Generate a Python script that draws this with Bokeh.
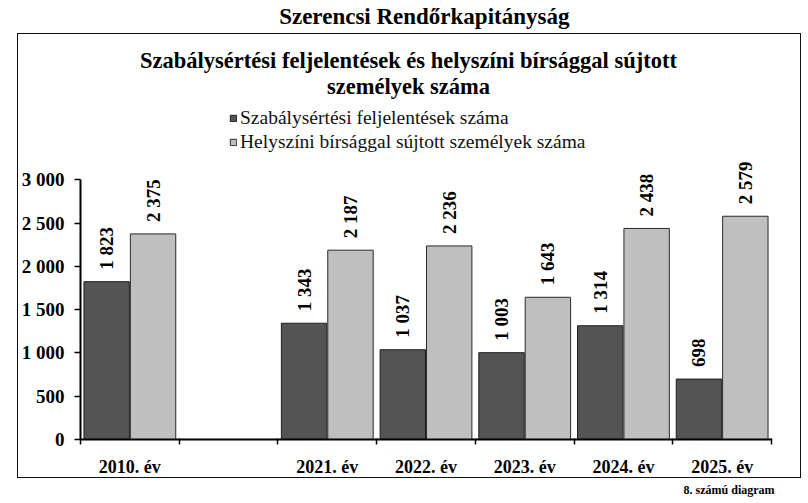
import math
from bokeh.plotting import figure
from bokeh.layouts import column
from bokeh.models import (Range1d, FixedTicker, Label, Legend, LegendItem, ColumnDataSource)
from bokeh.core.properties import value
from bokeh.embed import file_html
from bokeh.resources import INLINE

# ---- data ----
categories = ["2010. év", "", "2021. év", "2022. év", "2023. év", "2024. év", "2025. év"]
feljelentes = [1823, None, 1343, 1037, 1003, 1314, 698]
birsag = [2375, None, 2187, 2236, 1643, 2438, 2579]
y_ticks = [0, 500, 1000, 1500, 2000, 2500, 3000]
series_names = ["Szabálysértési feljelentések száma",
                "Helyszíni bírsággal sújtott személyek száma"]
outer_title = "Szerencsi Rendőrkapitányság"
inner_title = ["Szabálysértési feljelentések és helyszíni bírsággal sújtott",
               "személyek száma"]
footer = "8. számú diagram"

FONT = "Liberation Serif"
DARK = "#545454"
LIGHT = "#bfbfbf"


def fmt(v):
    return f"{v:,}".replace(",", " ")


def text_strip(height, txt, x, y, align, size, style="bold"):
    f = figure(width=806, height=height, output_backend="svg", toolbar_location=None,
               x_range=Range1d(0, 806), y_range=Range1d(0, height),
               x_axis_location=None, y_axis_location=None, min_border=0)
    f.outline_line_color = None
    f.xgrid.visible = False
    f.ygrid.visible = False
    f.add_layout(Label(x=x, y=y, text=txt, text_align=align, text_baseline="middle",
                       text_font=FONT, text_font_style=style, text_font_size=size,
                       text_color="black"))
    return f


top = text_strip(33, outer_title, 409, 17, "center", "23px")
foot = text_strip(21, footer, 805, 10, "right", "12px")

# main chart: canvas inside a 1px border box (box from x=17..802, y=33..479)
MW, MH = 784, 445
p = figure(width=MW, height=MH, output_backend="svg", toolbar_location=None,
           x_range=Range1d(0, len(categories)), y_range=Range1d(0, 4586),
           min_border_left=62, min_border_right=31, min_border_top=8,
           min_border_bottom=38)
p.styles = {"border": "1px solid #111111"}
p.margin = (0, 0, 0, 17)
p.outline_line_color = None
p.background_fill_color = "white"
p.border_fill_color = "white"
p.xgrid.visible = False
p.ygrid.visible = False

half = 0.235
bw = 0.46


def build(vals, shift):
    xs, ys, labels = [], [], []
    for i, v in enumerate(vals):
        if v is None:
            continue
        xs.append(i + 0.5 + shift)
        ys.append(v)
        labels.append(fmt(v))
    return ColumnDataSource(dict(x=xs, top=ys, label=labels))


src_d = build(feljelentes, -half)
src_l = build(birsag, half)

r_d = p.vbar(x="x", top="top", bottom=0, width=bw, source=src_d,
             fill_color=DARK, line_color="#1e1e1e", line_width=1)
r_l = p.vbar(x="x", top="top", bottom=0, width=bw, source=src_l,
             fill_color=LIGHT, line_color="#2a2a2a", line_width=1)

for src in (src_d, src_l):
    p.text(x="x", y="top", text="label", source=src, angle=math.pi / 2,
           text_align="left", text_baseline="middle", y_offset=-12,
           text_font=value(FONT), text_font_style="bold", text_font_size="19px",
           text_color="black")

# axes
yax = p.yaxis[0]
yax.ticker = FixedTicker(ticks=y_ticks, minor_ticks=[])
yax.major_label_overrides = {t: fmt(t) for t in y_ticks}
yax.bounds = (0, 3000)
yax.major_tick_in = 0
yax.major_tick_out = 6
yax.minor_tick_line_color = None
yax.axis_line_width = 2
yax.major_tick_line_width = 1.5
yax.major_label_standoff = 10
yax.major_label_text_font = FONT
yax.major_label_text_font_style = "bold"
yax.major_label_text_font_size = "19px"
yax.major_label_text_color = "black"

xax = p.xaxis[0]
centers = [i + 0.5 for i in range(len(categories))]
xax.ticker = FixedTicker(ticks=centers, minor_ticks=list(range(len(categories) + 1)))
xax.major_label_overrides = {c: lab for c, lab in zip(centers, categories)}
xax.major_tick_in = 0
xax.major_tick_out = 0
xax.minor_tick_in = 1
xax.minor_tick_out = 5
xax.minor_tick_line_width = 1.5
xax.axis_line_width = 2
xax.major_label_standoff = 12
xax.major_label_text_font = FONT
xax.major_label_text_font_style = "bold"
xax.major_label_text_font_size = "18px"
xax.major_label_text_color = "black"


# page pixel -> frame-relative screen units (frame left at x=80, bottom at y=441)
def sx(px):
    return px - 80


def sy(py):
    return 441 - py


for k, line in enumerate(inner_title):
    p.add_layout(Label(x=sx(408), y=sy(62 + 26 * k), x_units="screen", y_units="screen",
                       text=line, text_align="center", text_baseline="middle",
                       text_font=FONT, text_font_style="bold", text_font_size="22.5px",
                       text_color="black"))

legend = Legend(items=[LegendItem(label=series_names[0], renderers=[r_d]),
                       LegendItem(label=series_names[1], renderers=[r_l])],
                location=(sx(229), sy(155)))
legend.glyph_width = 8
legend.glyph_height = 8
legend.label_standoff = 3
legend.padding = 0
legend.margin = 0
legend.spacing = 2
legend.label_height = 18
legend.border_line_color = None
legend.background_fill_alpha = 0
legend.label_text_font = FONT
legend.label_text_font_size = "19.5px"
legend.label_text_color = "#111111"
p.add_layout(legend, "center")

layout = column(top, p, foot)
open("out.html", "w").write(file_html(layout, INLINE))
